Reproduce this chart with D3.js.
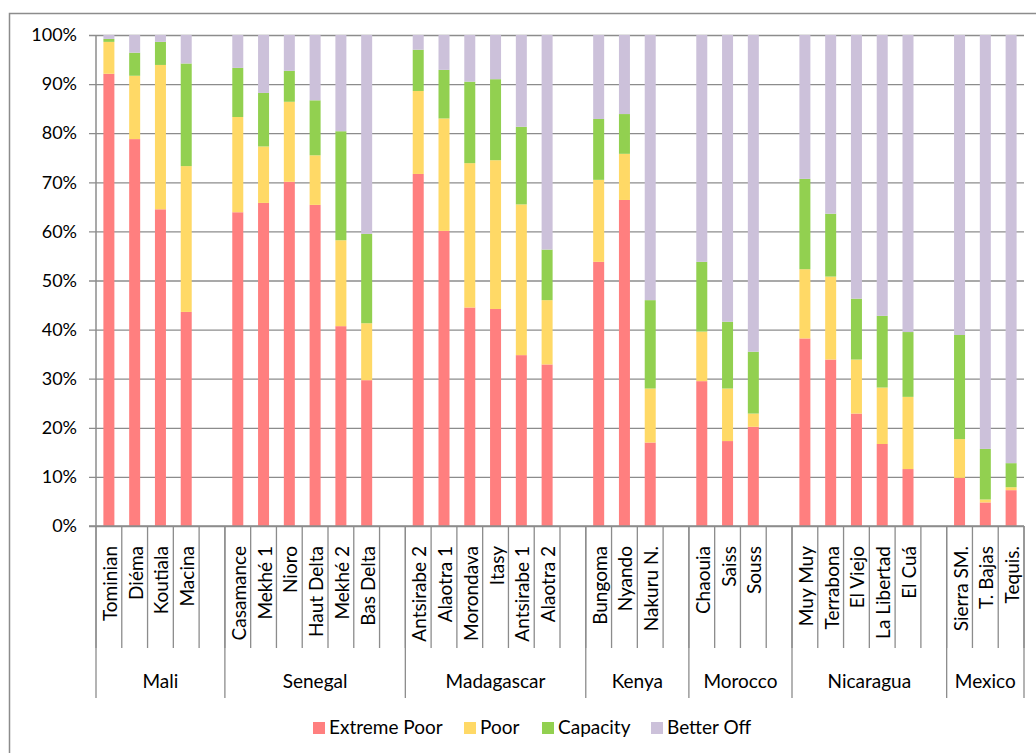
<!DOCTYPE html>
<html>
<head>
<meta charset="utf-8">
<script src="https://cdn.jsdelivr.net/npm/d3@7"></script>
<style>
  body { margin: 0; background: #fff; }
  svg { display: block; font-family: Lato, "Open Sans", sans-serif; }
</style>
</head>
<body>
<svg id="chart"></svg>
<script>
// Chart size
const width = 1036, height = 753;
const margin = { top: 35, right: 12, bottom: 227, left: 96 };

// Country groups and their sites (each group ends with one empty slot, except the last)
const groups = ["Mali", "Senegal", "Madagascar", "Kenya", "Morocco", "Nicaragua", "Mexico"];
const sites = [
  ["Tominian", "Diéma", "Koutiala", "Macina"],
  ["Casamance", "Mekhé 1", "Nioro", "Haut Delta", "Mekhé 2", "Bas Delta"],
  ["Antsirabe 2", "Alaotra 1", "Morondava", "Itasy", "Antsirabe 1", "Alaotra 2"],
  ["Bungoma", "Nyando", "Nakuru N."],
  ["Chaouia", "Saiss", "Souss"],
  ["Muy Muy", "Terrabona", "El Viejo", "La Libertad", "El Cuá"],
  ["Sierra SM.", "T. Bajas", "Tequis."]
];

// Series names and colours
const seriesNames = ["Extreme Poor", "Poor", "Capacity", "Better Off"];
const colors = ["#ff7f7f", "#ffd966", "#92d050", "#ccc1da"];

// Share of households per site (%), in the same order as sites flattened
const extremePoor = [92.1, 78.8, 64.5, 43.6, 63.9, 65.8, 70.1, 65.4, 40.7, 29.7,
  71.7, 60.1, 44.5, 44.2, 34.8, 32.9, 53.8, 66.4, 17.0, 29.5, 17.3, 20.2,
  38.2, 33.9, 22.9, 16.7, 11.6, 9.8, 4.8, 7.3];
const poor = [6.5, 12.9, 29.4, 29.7, 19.4, 11.5, 16.3, 10.1, 17.5, 11.6,
  16.9, 22.9, 29.4, 30.3, 30.7, 13.1, 16.7, 9.4, 11.0, 10.1, 10.7, 2.7,
  14.1, 16.9, 11.0, 11.5, 14.7, 7.9, 0.6, 0.6];
const capacity = [0.6, 4.7, 4.7, 20.9, 10.0, 10.9, 6.3, 11.2, 22.2, 18.2,
  8.4, 9.9, 16.6, 16.5, 15.8, 10.3, 12.4, 8.1, 18.0, 14.2, 13.6, 12.6,
  18.4, 12.8, 12.4, 14.6, 13.2, 21.2, 10.3, 4.9];
const betterOff = [0.8, 3.6, 1.4, 5.8, 6.7, 11.8, 7.3, 13.3, 19.6, 40.5,
  3.0, 7.1, 9.5, 9.0, 18.7, 43.7, 17.1, 16.1, 54.0, 46.2, 58.4, 64.5,
  29.3, 36.4, 53.7, 57.2, 60.5, 61.1, 84.3, 87.2];

const yTicks = [0, 10, 20, 30, 40, 50, 60, 70, 80, 90, 100];

// Build slots (site bars plus empty gap slots between countries)
let slots = [];
let rows = [];
let k = 0;
groups.forEach((g, gi) => {
  sites[gi].forEach(s => {
    slots.push(g + "|" + s);
    rows.push({ key: g + "|" + s, name: s, group: g,
      "Extreme Poor": extremePoor[k], "Poor": poor[k],
      "Capacity": capacity[k], "Better Off": betterOff[k] });
    k++;
  });
  if (gi < groups.length - 1) slots.push(g + "|gap");
});

const svg = d3.select("#chart").attr("width", width).attr("height", height);

const x = d3.scaleBand()
  .domain(slots)
  .range([margin.left, width - margin.right])
  .padding(0);

const y = d3.scaleLinear()
  .domain([0, 100])
  .range([height - margin.bottom, margin.top]);

const grey = "#8c8c8c";

// Outer chart border
svg.append("rect")
  .attr("x", 9.5).attr("y", 13.5)
  .attr("width", width + 20).attr("height", height + 20)
  .attr("fill", "none").attr("stroke", grey).attr("stroke-width", 1.5);

// Gridlines and y axis
const yAxis = d3.axisLeft(y)
  .tickValues(yTicks)
  .tickSize(-(width - margin.right - margin.left))
  .tickPadding(19)
  .tickFormat(d => d + "%");

const yg = svg.append("g")
  .attr("transform", `translate(${margin.left},0)`)
  .call(yAxis);
yg.select(".domain").remove();
yg.selectAll(".tick line")
  .attr("x1", -7)
  .attr("stroke", grey).attr("stroke-width", 1.3);
yg.selectAll(".tick text")
  .attr("font-size", 18).attr("font-family", "Lato").attr("fill", "#000");

// Stacked bars
const stack = d3.stack().keys(seriesNames);
const stacked = stack(rows);
const barW = 11;

svg.append("g").selectAll("g")
  .data(stacked)
  .join("g")
  .attr("fill", (d, i) => colors[i])
  .selectAll("rect")
  .data(d => d)
  .join("rect")
  .attr("x", d => x(d.data.key) + x.bandwidth() / 2 - barW / 2)
  .attr("width", barW)
  .attr("y", d => y(d[1]))
  .attr("height", d => y(d[0]) - y(d[1]));

// Left axis line and bottom axis line
svg.append("line")
  .attr("x1", margin.left).attr("x2", margin.left)
  .attr("y1", y(100)).attr("y2", y(0))
  .attr("stroke", grey).attr("stroke-width", 1.5);
svg.append("line")
  .attr("x1", margin.left - 7).attr("x2", width - margin.right)
  .attr("y1", y(0)).attr("y2", y(0))
  .attr("stroke", grey).attr("stroke-width", 1.5);

// Category axis: slot ticks
const y0 = y(0);
const bounds = slots.map(s => x(s)).concat([width - margin.right]);
svg.append("g").selectAll("line")
  .data(bounds)
  .join("line")
  .attr("x1", d => d).attr("x2", d => d)
  .attr("y1", y0).attr("y2", y0 + 122)
  .attr("stroke", grey).attr("stroke-width", 1.3);

// Site labels (rotated)
svg.append("g").selectAll("text")
  .data(rows)
  .join("text")
  .attr("transform", d => `translate(${x(d.key) + x.bandwidth() / 2 + 8},${y0 + 20}) rotate(-90)`)
  .attr("text-anchor", "end")
  .attr("font-size", 19)
  .text(d => d.name);

// Group boundaries and labels
let groupEdges = [];
groups.forEach((g, gi) => {
  let first = g + "|" + sites[gi][0];
  let last = gi < groups.length - 1 ? g + "|gap" : g + "|" + sites[gi][sites[gi].length - 1];
  groupEdges.push({ g, x0: x(first), x1: x(last) + x.bandwidth() });
});

svg.append("g").selectAll("line")
  .data([groupEdges[0].x0].concat(groupEdges.map(d => d.x1)))
  .join("line")
  .attr("x1", d => d).attr("x2", d => d)
  .attr("y1", y0).attr("y2", y0 + 172)
  .attr("stroke", grey).attr("stroke-width", 1.3);

svg.append("g").selectAll("text")
  .data(groupEdges)
  .join("text")
  .attr("x", d => (d.x0 + d.x1) / 2)
  .attr("y", y0 + 162)
  .attr("text-anchor", "middle")
  .attr("font-size", 19)
  .text(d => d.g);

// Legend
const legendX = [313, 464, 542, 651];
const legend = svg.append("g").selectAll("g")
  .data(seriesNames)
  .join("g")
  .attr("transform", (d, i) => `translate(${legendX[i]},722)`);
legend.append("rect")
  .attr("width", 12).attr("height", 12)
  .attr("fill", (d, i) => colors[i]);
legend.append("text")
  .attr("x", 16).attr("y", 12)
  .attr("font-size", 19)
  .text(d => d);
</script>
</body>
</html>
